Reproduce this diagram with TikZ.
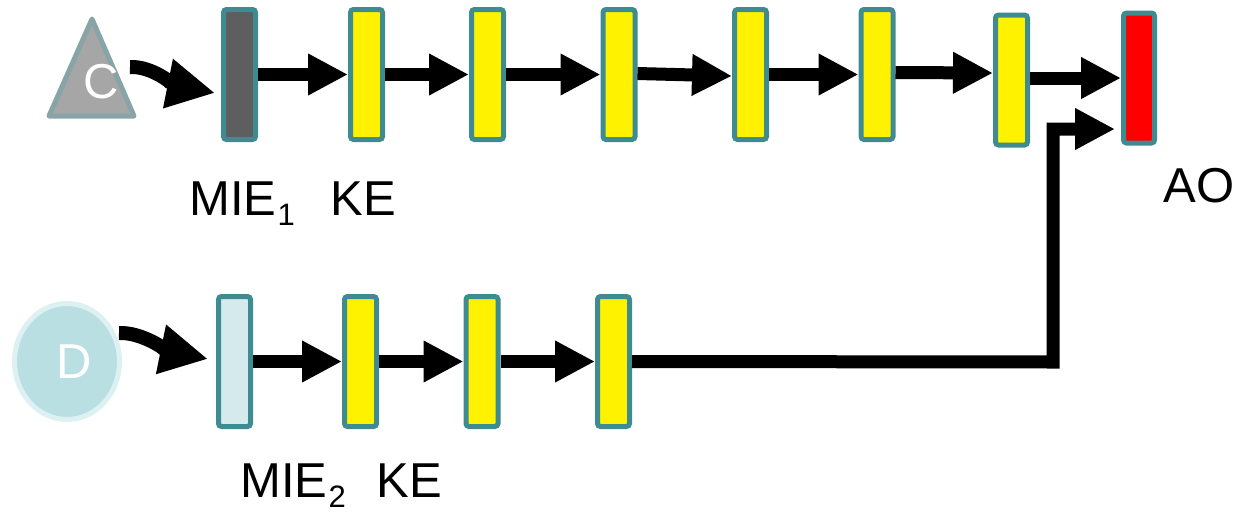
\documentclass[tikz,border=0pt]{standalone}
\usepackage{fontspec}
\setmainfont{Liberation Sans}
\usetikzlibrary{arrows.meta,shapes.geometric,calc}
\definecolor{bedge}{HTML}{3E8C91}
\definecolor{dgray}{HTML}{5E5E5E}
\definecolor{lfill}{HTML}{D5EAED}
\definecolor{trifill}{HTML}{A6A6A6}
\definecolor{triedge}{HTML}{88A4A6}
\definecolor{dfill}{HTML}{B9DFE3}
\definecolor{dedge}{HTML}{DDF0F2}
\begin{document}
\begin{tikzpicture}[x=0.5pt,y=-0.5pt,
  blk/.style={draw=bedge, line width=2.5pt, rounded corners=1.5pt,
    minimum width=16pt, minimum height=65pt, inner sep=0pt, fill=yellow},
  arr/.style={line width=6.5pt, line join=miter, -{Triangle[length=20pt,width=19.5pt]}},
  carr/.style={line width=7pt, -{Triangle[length=24pt,width=23.5pt]}},
  lbl/.style={anchor=base west, inner sep=0pt, font=\fontsize{24.5pt}{28pt}\selectfont},
  inlbl/.style={text=white, inner sep=0pt, font=\fontsize{24.5pt}{28pt}\selectfont}]
\useasboundingbox (0,0) rectangle (1238,515);
% sources
\draw[fill=trifill, draw=triedge, line width=2.5pt, line join=round]
  (92,19) -- (134,116) -- (49,116) -- cycle;
\node[inlbl] (C) at (101,82) {C};
\node[ellipse, minimum width=52.5pt, minimum height=58pt, fill=dfill,
  draw=dedge, line width=2.5pt, inner sep=0pt] (Dc) at (67,361.5) {};
\node[inlbl] (D) at (74,361.5) {D};
% top row
\node[blk, fill=dgray] (m1) at (239.5,74.5) {};
\node[blk] (k1) at (366.5,74.5) {};
\node[blk] (t3) at (487.5,74.5) {};
\node[blk] (t4) at (619,74.5) {};
\node[blk] (t5) at (750.5,74.5) {};
\node[blk] (t6) at (877,74.5) {};
\node[blk] (t7) at (1011.5,80) {};
\node[blk, fill=red, minimum width=15.5pt] (ao) at (1139,78) {};
% bottom row
\node[blk, fill=lfill] (m2) at (234.5,361.5) {};
\node[blk] (k2) at (360.5,361.5) {};
\node[blk] (u3) at (482,361.5) {};
\node[blk] (u4) at (613.5,361.5) {};
% labels
\node[lbl] (l1) at (189,215) {MIE\kern0.5pt\raisebox{-5pt}{\fontsize{15.5pt}{16pt}\selectfont 1}};
\node[lbl] (l2) at (330,215) {KE};
\node[lbl] (l3) at (1163,202) {AO};
\node[lbl] (l4) at (240,497) {MIE\kern0.5pt\raisebox{-5pt}{\fontsize{15.5pt}{16pt}\selectfont 2}};
\node[lbl] (l5) at (376,497) {KE};
% curved arrows
\coordinate (cs) at (130,67);
\coordinate (ds) at (119,333);
\draw[carr] (cs) .. controls (152,66) and (175,85) .. ($(m1.west)+(-6,18.5)$);
\draw[carr] (ds) .. controls (142,332) and (169,351) .. ($(m2.west)+(-8,-2.5)$);
% top arrows
\draw[arr] (m1.east) -- (m1.east -| k1.west);
\draw[arr] (k1.east) -- (k1.east -| t3.west);
\draw[arr] (t3.east) -- (t3.east -| t4.west);
\draw[arr] ($(t4.east)+(0,-1)$) -- ($(t4.east -| t5.west)+(0,1.5)$);
\draw[arr] (t5.east) -- (t5.east -| t6.west);
\draw[arr] ($(t6.east)+(0,-2)$) -- ($(t6.east -| t7.west)+(0,-1.5)$);
\draw[arr] ($(t7.east)+(0,-2)$) -- (ao.west);
% bottom arrows
\draw[arr] (m2.east) -- (m2.east -| k2.west);
\draw[arr] (k2.east) -- (k2.east -| u3.west);
\draw[arr] (u3.east) -- (u3.east -| u4.west);
% long connector
\coordinate (j1) at (1053,362);
\coordinate (j2) at (1053,129);
\draw[arr] (u4.east) -- (j1) -- (j2) -- ($(ao.west)+(-6,51)$);
\end{tikzpicture}
\end{document}
